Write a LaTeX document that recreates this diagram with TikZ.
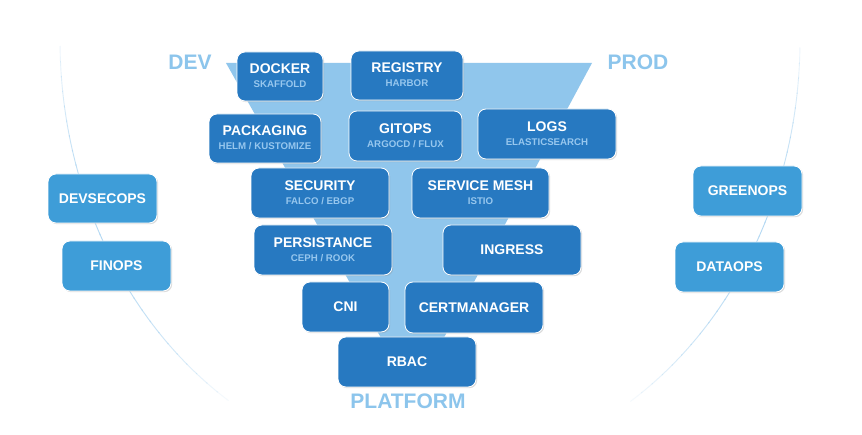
\documentclass[tikz,border=0pt]{standalone}
\usepackage{fontspec}
\setmainfont{Liberation Sans}
\usetikzlibrary{shadows}
\definecolor{boxdark}{HTML}{2779C1}
\definecolor{boxlight}{HTML}{3E9DD8}
\definecolor{funnelc}{HTML}{90C6EC}
\definecolor{labelc}{HTML}{8CC5EC}
\definecolor{subc}{HTML}{97C7EE}
\definecolor{arcc}{HTML}{B5D9F3}
\newcommand\ttlfont{\fontsize{14}{16}\selectfont\bfseries}
\newcommand\subfont{\fontsize{9.7}{11}\selectfont\bfseries}
\newcommand\bigfont{\fontsize{21}{24}\selectfont\bfseries}
\tikzset{
  boxbase/.style={draw=white, line width=0.8pt, rounded corners=8pt, inner sep=0pt,
    drop shadow={shadow xshift=1.2pt, shadow yshift=-1.2pt, opacity=0.3, fill=black!45}},
  dbox/.style={boxbase, fill=boxdark},
  lbox/.style={boxbase, fill=boxlight},
  ttl/.style={text=white, font=\ttlfont, inner sep=0pt},
  sub/.style={text=subc, font=\subfont, inner sep=0pt},
  biglabel/.style={text=labelc, font=\bigfont, inner sep=0pt}
}
% name, left, top, right, bottom, title, subtitle
\newcommand\twobox[7]{%
  \node[dbox, minimum width=#4pt-#2pt, minimum height=#5pt-#3pt] (#1) at ({(#2+#4)/2},{(#3+#5)/2}) {};
  \node[ttl, anchor=center] (#1-t) at ([yshift=7.5pt]#1.center) {#6};
  \node[sub, anchor=center] (#1-s) at ([yshift=-8pt]#1.center) {#7};
}
\newcommand\onebox[7]{%
  \node[#7, minimum width=#4pt-#2pt, minimum height=#5pt-#3pt] (#1) at ({(#2+#4)/2},{(#3+#5)/2}) {};
  \node[ttl, anchor=center] (#1-t) at (#1.center) {#6};
}
\begin{document}
\begin{tikzpicture}[x=1pt,y=-1pt]
\useasboundingbox (0,0) rectangle (862,435);
\fill[white] (0,0) rectangle (862,435);
% arcs with faded ends
\foreach \a in {123,125,...,177}{
  \pgfmathsetmacro\op{0.15+0.85*sin((\a-123)/56*180)}
  \draw[arcc, line width=0.9pt, opacity=\op] plot[domain=\a:\a+2.2, samples=4] ({430+370*cos(\x)},{40+430*sin(\x)});
  \pgfmathsetmacro\b{180-\a-2}
  \draw[arcc, line width=0.9pt, opacity=\op] plot[domain=\b:\b+2.2, samples=4] ({430+370*cos(\x)},{40+430*sin(\x)});
}
% funnel
\fill[funnelc] (226,63) -- (592,63) -- (440,345) -- (385,345) -- cycle;
% labels
\node[biglabel] (dev) at (190,62) {DEV};
\node[biglabel] (prod) at (638,62) {PROD};
\node[biglabel] (platform) at (408,401) {PLATFORM};
% boxes
\twobox{docker}{237}{52}{323}{101}{DOCKER}{SKAFFOLD}
\twobox{registry}{351}{51}{463}{100}{REGISTRY}{HARBOR}
\twobox{packaging}{209}{114}{321}{163}{PACKAGING}{HELM / KUSTOMIZE}
\twobox{gitops}{349}{111}{462}{161}{GITOPS}{ARGOCD / FLUX}
\twobox{logs}{478}{109}{616}{159}{LOGS}{ELASTICSEARCH}
\twobox{security}{251}{168}{389}{218}{SECURITY}{FALCO / EBGP}
\twobox{mesh}{412}{168}{549}{218}{SERVICE MESH}{ISTIO}
\twobox{persist}{254}{225}{392}{275}{PERSISTANCE}{CEPH / ROOK}
\onebox{ingress}{443}{225}{581}{275}{INGRESS}{dbox}
\onebox{cni}{302}{282}{389}{332}{CNI}{dbox}
\onebox{certm}{405}{282}{543}{333}{CERTMANAGER}{dbox}
\onebox{rbac}{338}{337}{476}{387}{RBAC}{dbox}
\onebox{devsecops}{48}{174}{157}{223}{DEVSECOPS}{lbox}
\onebox{finops}{62}{241}{171}{291}{FINOPS}{lbox}
\onebox{greenops}{693}{166}{802}{216}{GREENOPS}{lbox}
\onebox{dataops}{675}{242}{784}{292}{DATAOPS}{lbox}
\end{tikzpicture}
\end{document}
